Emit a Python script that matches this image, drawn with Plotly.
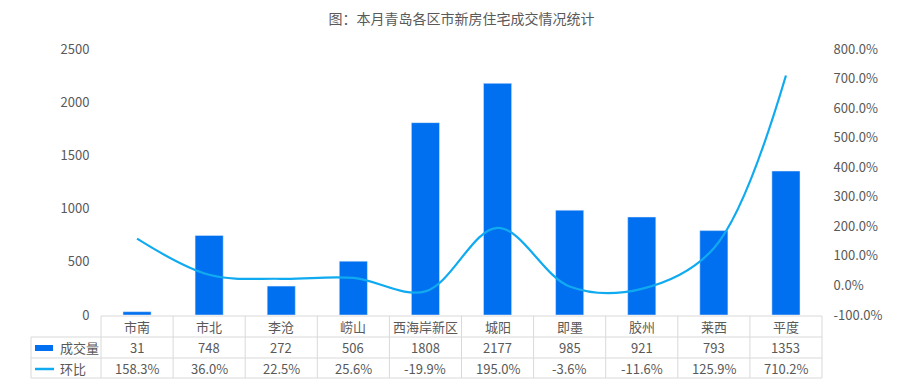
import plotly.graph_objects as go

categories = ["市南", "市北", "李沧", "崂山", "西海岸新区", "城阳", "即墨", "胶州", "莱西", "平度"]
volume = [31, 748, 272, 506, 1808, 2177, 985, 921, 793, 1353]
mom_pct = [158.3, 36.0, 22.5, 25.6, -19.9, 195.0, -3.6, -11.6, 125.9, 710.2]
left_ticks = [0, 500, 1000, 1500, 2000, 2500]
right_ticks = [-100, 0, 100, 200, 300, 400, 500, 600, 700, 800]

OFF = 8  # page body margin
W, H = 908, 386
L, R, T, B = 101, 822, 49, 315
FONT = "Noto Sans CJK SC, Microsoft YaHei, sans-serif"
TXT = "#595959"
GRID = "#d9d9d9"
BAR = "#0070f0"
LINE = "#10aaf0"

def px(x):
    return (x - L) / (R - L)

def py(y):
    return (B - y) / (B - T)

fig = go.Figure()
fig.add_trace(go.Bar(x=list(range(len(categories))), y=volume, marker_color=BAR,
                     width=0.39, name="成交量", showlegend=False))
fig.add_trace(go.Scatter(x=list(range(len(categories))), y=mom_pct, yaxis="y2",
                         mode="lines", line=dict(color=LINE, width=2.2, shape="spline", smoothing=1.0),
                         name="环比", showlegend=False))

shapes = []
annotations = []
row_y = [316, 337, 358, 378]
shapes.append(dict(type="line", xref="paper", yref="paper", x0=px(L), x1=px(R), y0=py(316), y1=py(316),
                   line=dict(color=GRID, width=1)))
for yy in row_y[1:]:
    shapes.append(dict(type="line", xref="paper", yref="paper", x0=px(31), x1=px(R), y0=py(yy), y1=py(yy),
                       line=dict(color=GRID, width=1)))
n = len(categories)
cw = (R - L) / n
for i in range(n + 1):
    xx = L + cw * i
    shapes.append(dict(type="line", xref="paper", yref="paper", x0=px(xx), x1=px(xx), y0=py(316), y1=py(378),
                       line=dict(color=GRID, width=1)))
shapes.append(dict(type="line", xref="paper", yref="paper", x0=px(31), x1=px(31), y0=py(337), y1=py(378),
                   line=dict(color=GRID, width=1)))
shapes.append(dict(type="rect", xref="paper", yref="paper", x0=px(35), x1=px(53), y0=py(351), y1=py(345),
                   fillcolor=BAR, line=dict(width=0)))
shapes.append(dict(type="line", xref="paper", yref="paper", x0=px(35), x1=px(54), y0=py(369), y1=py(369),
                   line=dict(color=LINE, width=2.5)))
annotations.append(dict(xref="paper", yref="paper", x=px(58), y=py(347.5), text="成交量", showarrow=False,
                        xanchor="left", yanchor="middle", font=dict(family=FONT, size=13, color=TXT)))
annotations.append(dict(xref="paper", yref="paper", x=px(58), y=py(368.5), text="环比", showarrow=False,
                        xanchor="left", yanchor="middle", font=dict(family=FONT, size=13, color=TXT)))
for i, c in enumerate(categories):
    annotations.append(dict(xref="x", yref="paper", x=i, y=py(326.5), text=c, showarrow=False,
                            xanchor="center", yanchor="middle", font=dict(family=FONT, size=13, color=TXT)))
    annotations.append(dict(xref="x", yref="paper", x=i, y=py(347.5), text=str(volume[i]), showarrow=False,
                            xanchor="center", yanchor="middle", font=dict(family=FONT, size=13, color=TXT)))
    annotations.append(dict(xref="x", yref="paper", x=i, y=py(368.5), text=f"{mom_pct[i]:.1f}%", showarrow=False,
                            xanchor="center", yanchor="middle", font=dict(family=FONT, size=13, color=TXT)))

fig.update_layout(
    width=W - OFF, height=H - OFF,
    margin=dict(l=L - OFF, r=W - R, t=T - OFF, b=H - B, pad=0),
    paper_bgcolor="white", plot_bgcolor="white",
    title=dict(text="图：本月青岛各区市新房住宅成交情况统计", x=0.5, xref="paper",
               y=1 - (19 - OFF) / (H - OFF), yanchor="middle",
               font=dict(family=FONT, size=14, color=TXT)),
    xaxis=dict(range=[-0.5, n - 0.5], showticklabels=False, showgrid=False, zeroline=False,
               showline=False, ticks=""),
    yaxis=dict(range=[0, 2500], tickvals=left_ticks, ticktext=[str(v) for v in left_ticks],
               showgrid=False, zeroline=False, showline=False, ticks="outside", ticklen=8, tickcolor="white",
               tickfont=dict(family=FONT, size=13, color=TXT)),
    yaxis2=dict(range=[-100, 800], overlaying="y", side="right", tickvals=right_ticks,
                ticktext=[f"{v:.1f}%" for v in right_ticks], showgrid=False, zeroline=False, showline=False,
                ticks="outside", ticklen=8, tickcolor="white",
                tickfont=dict(family=FONT, size=13, color=TXT)),
    shapes=shapes, annotations=annotations, bargap=0.6,
)
fig.write_html("out.html")
